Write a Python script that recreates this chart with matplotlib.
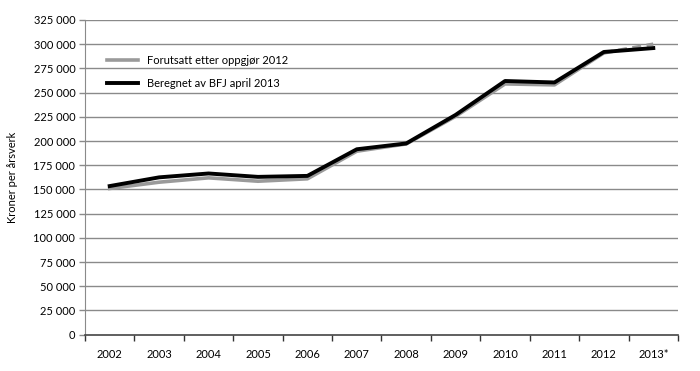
import matplotlib
matplotlib.use("Agg")
import matplotlib.pyplot as plt
import numpy as np

years = ["2002", "2003", "2004", "2005", "2006", "2007", "2008",
         "2009", "2010", "2011", "2012", "2013*"]
forutsatt = [151000, 157500, 162000, 158500, 161000, 189500, 197000,
             225500, 259000, 258000, 291000, 300000]
beregnet = [153500, 162500, 166500, 163000, 164000, 191500, 197500,
            227000, 262000, 260500, 292000, 296000]

plt.rcParams['font.family'] = ['Lato', 'DejaVu Sans']

fig = plt.figure(figsize=(7, 3.71), dpi=100)
ax = fig.add_axes([85 / 700, (371 - 334.7) / 371, 593 / 700, (334.7 - 20) / 371])

x = np.arange(len(years))
grid_col = "#8a8a8a"

for v in range(25000, 325001, 25000):
    ax.axhline(v, color=grid_col, lw=1.0, zorder=0)

# gray line: solid up to 2012, dashed to the 2013 estimate
ax.plot(x[:-1], forutsatt[:-1], color="#9a9a9a", lw=2.6, zorder=2,
        solid_joinstyle="round", label="Forutsatt etter oppgjør 2012")
ax.plot(x[-2:], forutsatt[-2:], color="#9a9a9a", lw=2.6, zorder=2,
        dashes=(2.5, 1.5))
ax.plot(x, beregnet, color="black", lw=2.8, zorder=3,
        solid_joinstyle="round", label="Beregnet av BFJ april 2013")

ax.set_xlim(-0.5, len(years) - 0.5)
ax.set_ylim(0, 325000)
ax.set_yticks(range(0, 325001, 25000))
ax.set_yticklabels([f"{v:,}".replace(",", " ") for v in range(0, 325001, 25000)])
ax.set_xticks(x)
ax.set_xticklabels(years)
ax.set_xticks(np.arange(-0.5, len(years)), minor=True)

ax.tick_params(axis="x", which="major", length=0, pad=10, labelsize=8)
ax.tick_params(axis="x", which="minor", length=4, color="#333333", width=1)
ax.tick_params(axis="y", length=4, color=grid_col, width=1, pad=3, labelsize=8)

for s in ["top", "right"]:
    ax.spines[s].set_visible(False)
ax.spines["left"].set_color(grid_col)
ax.spines["bottom"].set_color("#444444")
ax.spines["bottom"].set_linewidth(1.2)

ax.set_ylabel("Kroner per årsverk", fontsize=8, labelpad=11)

ax.legend(loc="upper left", bbox_to_anchor=(0.02, 0.92), frameon=False,
          fontsize=8, handlelength=2.8, labelspacing=1.05)

fig.savefig("out.png", dpi=100)
